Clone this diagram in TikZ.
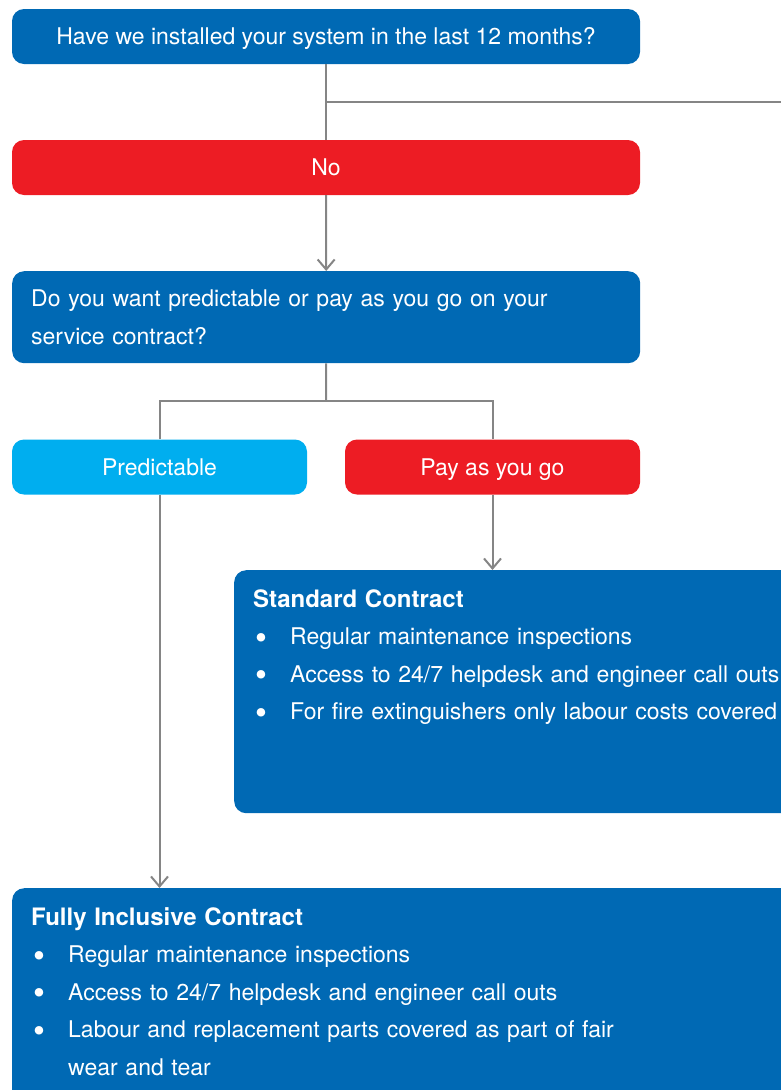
\documentclass[tikz,border=0pt]{standalone}
\usepackage{fontspec}
\setmainfont{TeX Gyre Heros}
\usepackage{xcolor}
\usepackage{tikz}
\usetikzlibrary{positioning}
\usetikzlibrary{calc}
\usetikzlibrary{arrows.meta}

\newcommand{\itembul}{\makebox[37pt][l]{\hspace{2pt}\raisebox{-4.5pt}{\fontsize{34}{34}\selectfont\textbullet}}}

\begin{document}
\begin{tikzpicture}
    [%%%%%%%%%%%%%%%%%%%%%%%%%%%%%%
        x=1pt, y=-1pt,
        box/.style={rectangle, rounded corners=12pt, text=white, inner sep=0pt,
            minimum height=55pt, text height=16.6pt, text depth=0pt,
            font=\fontsize{23}{37.5}\selectfont},
        textbox/.style={box, anchor=north west, inner xsep=19pt, inner ysep=20pt,
            align=left, text height=17.2pt},
        link/.style={draw=linegray, line width=2pt},
        arrow/.style={link, -{Straight Barb[length=10pt,width=17pt]}}
    ]%%%%%%%%%%%%%%%%%%%%%%%%%%%%%%
\definecolor{darkblue}{HTML}{0069B4}
\definecolor{alertred}{HTML}{ED1C24}
\definecolor{lightblue}{HTML}{00AEEF}
\definecolor{linegray}{HTML}{858585}

\useasboundingbox (0,0) rectangle (781,1090);
\clip (0,0) rectangle (781,1090);

\node[box,fill=darkblue,minimum width=628pt] (installed) at (326,36.5)
    {Have we installed your system in the last 12 months?};
\node[box,fill=alertred,minimum width=628pt] (no) at (326,167.5) {No};
\node[textbox,fill=darkblue,text width=590pt,inner ysep=19pt,text height=16.6pt,
    text depth=37.4pt] (want) at (12,271)
    {Do you want predictable or pay as you go on your\\service contract?};
\node[box,fill=lightblue,minimum width=295pt] (predictable) at (159.5,467) {Predictable};
\node[box,fill=alertred,minimum width=295pt] (payg) at (492.5,467) {Pay as you go};

\node[textbox,fill=darkblue,text width=558pt,text depth=185.8pt] (standard) at (234,570)
    {{\fontsize{24}{37.5}\selectfont\bfseries Standard Contract}\\
     \itembul Regular maintenance inspections\\
     \itembul Access to 24/7 helpdesk and engineer call outs\\
     \itembul For fire extinguishers only labour costs covered};
\node[textbox,fill=darkblue,text width=780pt,text depth=182.8pt] (inclusive) at (12,888)
    {{\fontsize{24}{37.5}\selectfont\bfseries Fully Inclusive Contract}\\
     \itembul Regular maintenance inspections\\
     \itembul Access to 24/7 helpdesk and engineer call outs\\
     \itembul Labour and replacement parts covered as part of fair\\
     \hspace*{37pt}wear and tear};

% connectors
\coordinate (fork) at ($(installed.south)!0.5!(no.north)$);
\coordinate (offpage) at (800,102);
\coordinate (split) at ($(want.south)!0.5!(predictable.north -| want.south)$);

\draw[link] (installed.south) -- (no.north);
\draw[link] (fork) -- (fork -| offpage);
\draw[arrow] (no.south) -- (want.north);
\draw[link] (want.south) -- (split);
\draw[link] (predictable.north) |- (split) -| (payg.north);
\draw[arrow] (payg.south) -- (payg.south |- standard.north);
\draw[arrow] (predictable.south) -- (predictable.south |- inclusive.north);

\end{tikzpicture}
\end{document}
